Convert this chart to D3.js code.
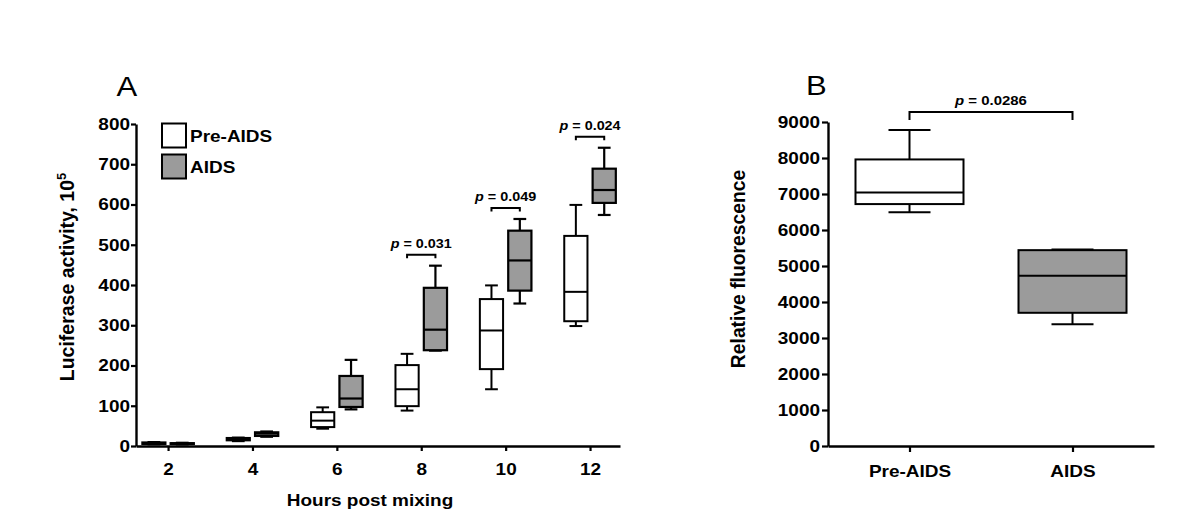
<!DOCTYPE html>
<html>
<head>
<meta charset="utf-8">
<script src="https://cdn.jsdelivr.net/npm/d3@7"></script>
<style>
  html, body { margin: 0; padding: 0; background: #fff; }
  svg { display: block; }
  text { font-family: "Liberation Sans", Arial, sans-serif; fill: #000; }
</style>
</head>
<body>
<svg id="chart" width="1200" height="529"></svg>
<script>
// ---------------- DATA ----------------
// Panel A: luciferase activity (x10^5) by hours post mixing
const hours = [2, 4, 6, 8, 10, 12];
const groups = ["Pre-AIDS", "AIDS"];
// five-number summaries [low whisker, Q1, median, Q3, high whisker]
const preAidsA = [
  [4, 5, 7, 9, 10],
  [12, 14, 17, 20, 21],
  [43, 47, 63, 84, 96],
  [88, 99, 141, 201, 229],
  [141, 191, 287, 365, 399],
  [298, 310, 383, 522, 599]
];
const aidsA = [
  [4, 5, 6, 7, 8],
  [23, 25, 31, 34, 36],
  [91, 97, 118, 174, 214],
  [237, 238, 289, 393, 448],
  [354, 386, 461, 535, 564],
  [574, 604, 636, 689, 741]
];
const pLabelsA = [null, null, null, "0.031", "0.049", "0.024"];
const yTicksA = [0, 100, 200, 300, 400, 500, 600, 700, 800];

// Panel B: relative fluorescence
const groupsB = ["Pre-AIDS", "AIDS"];
const boxesB = [
  [6490, 6720, 7040, 7960, 8780],
  [3380, 3700, 4730, 5440, 5460]
];
const pLabelB = "0.0286";
const yTicksB = [0, 1000, 2000, 3000, 4000, 5000, 6000, 7000, 8000, 9000];

// ---------------- LAYOUT ----------------
const svg = d3.select("#chart");
const FONT_TICK = 16.5, STRETCH = 1.15;
const GREY = "#9b9b9b";

function hstretch(sel, k) {
  sel.each(function () {
    const t = d3.select(this);
    const x = +t.attr("x") || 0, y = +t.attr("y") || 0;
    t.attr("x", 0).attr("y", 0).attr("transform", `translate(${x},${y}) scale(${k},1)`);
  });
}

function styleAxis(g) {
  g.select(".domain").attr("stroke", "#000").attr("stroke-width", 2.4);
  g.selectAll(".tick line").attr("stroke", "#000").attr("stroke-width", 2.2);
  g.selectAll(".tick text")
    .attr("font-size", FONT_TICK).attr("font-weight", "bold")
    .attr("font-family", '"Liberation Sans", Arial, sans-serif').attr("fill", "#000");
  hstretch(g.selectAll(".tick text"), STRETCH);
}

function drawBox(g, cx, w, capW, s, y, fill, sw) {
  const [lo, q1, med, q3, hi] = s;
  g.append("line").attr("x1", cx).attr("x2", cx).attr("y1", y(hi)).attr("y2", y(q3))
    .attr("stroke", "#000").attr("stroke-width", sw);
  g.append("line").attr("x1", cx).attr("x2", cx).attr("y1", y(q1)).attr("y2", y(lo))
    .attr("stroke", "#000").attr("stroke-width", sw);
  g.append("line").attr("x1", cx - capW / 2).attr("x2", cx + capW / 2).attr("y1", y(hi)).attr("y2", y(hi))
    .attr("stroke", "#000").attr("stroke-width", sw);
  g.append("line").attr("x1", cx - capW / 2).attr("x2", cx + capW / 2).attr("y1", y(lo)).attr("y2", y(lo))
    .attr("stroke", "#000").attr("stroke-width", sw);
  g.append("rect").attr("x", cx - w / 2).attr("width", w)
    .attr("y", y(q3)).attr("height", Math.max(0.5, y(q1) - y(q3)))
    .attr("fill", fill).attr("stroke", "#000").attr("stroke-width", sw);
  g.append("line").attr("x1", cx - w / 2).attr("x2", cx + w / 2).attr("y1", y(med)).attr("y2", y(med))
    .attr("stroke", "#000").attr("stroke-width", sw);
}

function pLabel(g, x, yBase, value, size) {
  const t = g.append("text").attr("x", x).attr("y", yBase)
    .attr("text-anchor", "middle").attr("font-size", size).attr("font-weight", "bold");
  t.append("tspan").attr("font-style", "italic").text("p");
  t.append("tspan").text(" = " + value);
  hstretch(t, STRETCH);
}

function bracket(g, x1, x2, yTop, drop) {
  g.append("path")
    .attr("d", `M${x1},${yTop + drop}V${yTop}H${x2}V${yTop + drop}`)
    .attr("fill", "none").attr("stroke", "#000").attr("stroke-width", 2);
}

// ---------------- PANEL A ----------------
const xA = d3.scaleLinear().domain([1.24, 12.71]).range([136, 620]);
const yA = d3.scaleLinear().domain([0, 800]).range([446, 124]);
const offA = 0.336, boxWA = xA(0.55) - xA(0);
const gA = svg.append("g");

gA.append("g").attr("transform", "translate(136,0)")
  .call(d3.axisLeft(yA).tickValues(yTicksA).tickFormat(d3.format("d")).tickSize(5).tickPadding(1).tickSizeOuter(0))
  .call(styleAxis);
gA.append("g").attr("transform", "translate(0,446)")
  .call(d3.axisBottom(xA).tickValues(hours).tickFormat(d3.format("d")).tickSize(5).tickPadding(12.3).tickSizeOuter(0))
  .call(styleAxis);

hours.forEach((h, i) => {
  drawBox(gA, xA(h - offA), boxWA, boxWA * 0.55, preAidsA[i], yA, "#fff", 2);
  drawBox(gA, xA(h + offA), boxWA, boxWA * 0.55, aidsA[i], yA, GREY, 2.2);
  if (pLabelsA[i]) {
    const top = Math.min(yA(preAidsA[i][4]), yA(aidsA[i][4])) - 11;
    bracket(gA, xA(h - offA), xA(h + offA), top, 3.5);
    pLabel(gA, xA(h), top - 6.5, pLabelsA[i], 12.5);
  }
});

// legend
const legendA = [{ name: groups[0], fill: "#fff" }, { name: groups[1], fill: GREY }];
legendA.forEach((d, i) => {
  const y0 = 123.5 + i * 31;
  gA.append("rect").attr("x", 162).attr("y", y0).attr("width", 24).attr("height", 24)
    .attr("fill", d.fill).attr("stroke", "#000").attr("stroke-width", 2);
  const t = gA.append("text").attr("x", 190).attr("y", y0 + 18.3)
    .attr("font-size", FONT_TICK).attr("font-weight", "bold").text(d.name);
  hstretch(t, STRETCH);
});

// axis titles
const yLabA = gA.append("text").attr("transform", "translate(74,277) rotate(-90)")
  .attr("text-anchor", "middle").attr("font-size", 19.5).attr("font-weight", "bold");
yLabA.append("tspan").text("Luciferase activity, 10");
yLabA.append("tspan").attr("font-size", 13).attr("dy", -8).text("5");

const xLabA = gA.append("text").attr("x", 370).attr("y", 506)
  .attr("text-anchor", "middle").attr("font-size", FONT_TICK).attr("font-weight", "bold")
  .text("Hours post mixing");
hstretch(xLabA, STRETCH);

const tA = gA.append("text").attr("x", 116.5).attr("y", 96).attr("font-size", 27).text("A");
hstretch(tA, STRETCH);

// ---------------- PANEL B ----------------
const xB = d3.scalePoint().domain(groupsB).range([828, 1154]).padding(0.5);
const yB = d3.scaleLinear().domain([0, 9000]).range([446, 122]);
const boxWB = 108;
const gB = svg.append("g");

gB.append("g").attr("transform", "translate(828,0)")
  .call(d3.axisLeft(yB).tickValues(yTicksB).tickFormat(d3.format("d")).tickSize(6).tickPadding(2).tickSizeOuter(0))
  .call(styleAxis);
gB.append("g").attr("transform", "translate(0,446)")
  .call(d3.axisBottom(xB).tickSize(6).tickPadding(13.3).tickSizeOuter(0))
  .call(styleAxis);

groupsB.forEach((grp, i) => {
  drawBox(gB, xB(grp), boxWB, 42, boxesB[i], yB, i === 0 ? "#fff" : GREY, 2);
});
{
  const top = Math.min(yB(boxesB[0][4]), yB(boxesB[1][4])) - 18;
  bracket(gB, xB(groupsB[0]), xB(groupsB[1]), top, 8);
  pLabel(gB, (xB(groupsB[0]) + xB(groupsB[1])) / 2, top - 6.5, pLabelB, 13);
}

gB.append("text").attr("transform", "translate(745,269) rotate(-90)")
  .attr("text-anchor", "middle").attr("font-size", 19.3).attr("font-weight", "bold")
  .text("Relative fluorescence");

const tB = gB.append("text").attr("x", 806).attr("y", 95).attr("font-size", 27).text("B");
hstretch(tB, STRETCH);
</script>
</body>
</html>
